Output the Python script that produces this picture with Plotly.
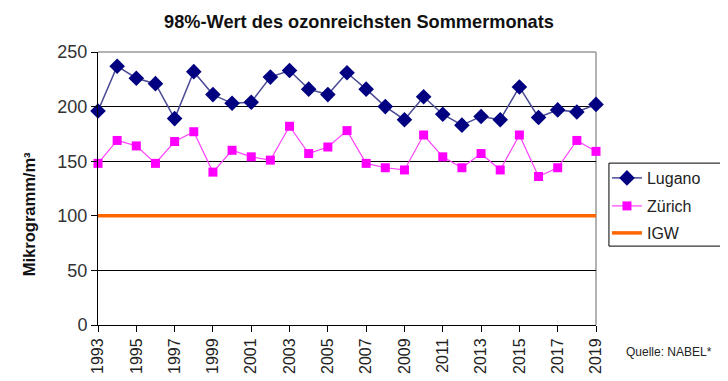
import plotly.graph_objects as go

years = list(range(1993, 2020))
lugano = [196, 237, 226, 221, 189, 232, 211, 203, 204, 227, 233, 216, 211, 231,
          216, 200, 188, 209, 193, 183, 191, 188, 218, 190, 197, 195, 202]
zuerich = [148, 169, 164, 148, 168, 177, 140, 160, 154, 151, 182, 157, 163, 178,
           148, 144, 142, 174, 154, 144, 157, 142, 174, 136, 144, 169, 159]
igw = [100] * len(years)
xticks = list(range(1993, 2020, 2))
yticks = [0, 50, 100, 150, 200, 250]

font = "Liberation Sans, Arial, sans-serif"

fig = go.Figure()
fig.add_trace(go.Scatter(x=years, y=lugano, name="Lugano", mode="lines+markers",
                         line=dict(color="#4b4b96", width=1.5),
                         marker=dict(symbol="diamond", size=12, color="#000080"),
                         cliponaxis=False, legend="legend"))
fig.add_trace(go.Scatter(x=years, y=zuerich, name="Zürich", mode="lines+markers",
                         line=dict(color="#ff40ff", width=1.2),
                         marker=dict(symbol="square", size=9, color="#ff00ff"),
                         cliponaxis=False, legend="legend2"))
fig.add_trace(go.Scatter(x=years, y=igw, name="IGW", mode="lines",
                         line=dict(color="#ff6600", width=3.5), cliponaxis=False,
                         legend="legend3"))

leg = dict(xanchor="left", yanchor="middle", borderwidth=0,
           bgcolor="rgba(0,0,0,0)", font=dict(size=16, color="#222"), itemwidth=30)

fig.update_layout(
    width=720, height=373,
    margin=dict(l=90, r=132, t=44, b=56, autoexpand=False),
    paper_bgcolor="white", plot_bgcolor="white",
    font=dict(family=font, color="#222"),
    title=dict(text="<b>98%-Wert des ozonreichsten Sommermonats</b>",
               x=0.4875, xanchor="center", y=0.9625, yanchor="middle",
               font=dict(size=18.2, color="#111")),
    showlegend=True,
    legend=dict(leg, x=1.022, y=0.5385),
    legend2=dict(leg, x=1.022, y=0.4359),
    legend3=dict(leg, x=1.022, y=0.337),
    xaxis=dict(range=[1993, 2019], tickvals=xticks, ticktext=[str(v) for v in xticks],
               tickangle=-90, tickfont=dict(size=16, color="#222"), automargin=False,
               showgrid=False, zeroline=False, showline=True, linecolor="black",
               linewidth=1, ticks="outside", ticklen=6, tickcolor="black"),
    yaxis=dict(range=[0, 250], tickvals=yticks, tickfont=dict(size=18, color="#333"),
               automargin=False,
               showgrid=True, gridcolor="black", gridwidth=1, zeroline=False,
               showline=True, linecolor="black", linewidth=1,
               ticks="outside", ticklen=6, tickcolor="black"),
    shapes=[
        dict(type="line", xref="paper", yref="paper", x0=0, x1=1, y0=1, y1=1,
             line=dict(color="#999999", width=1.5), layer="above"),
        dict(type="line", xref="paper", yref="paper", x0=1, x1=1, y0=0, y1=1,
             line=dict(color="#999999", width=1.5), layer="below"),
        dict(type="rect", xref="paper", yref="paper", x0=1.026, x1=1.261,
             y0=0.289, y1=0.593, line=dict(color="black", width=1),
             fillcolor="rgba(0,0,0,0)"),
    ],
    annotations=[
        dict(text="<b>Mikrogramm/m³</b>", xref="paper", yref="paper",
             x=-0.137, y=0.405, xanchor="center", yanchor="middle", textangle=-90,
             showarrow=False, font=dict(size=16.5, color="#111")),
        dict(text="Quelle: NABEL*", xref="paper", yref="paper", x=1.056, y=-0.099,
             xanchor="left", yanchor="middle", showarrow=False,
             font=dict(size=12, color="#222")),
    ],
)

fig.write_html("out.html")
